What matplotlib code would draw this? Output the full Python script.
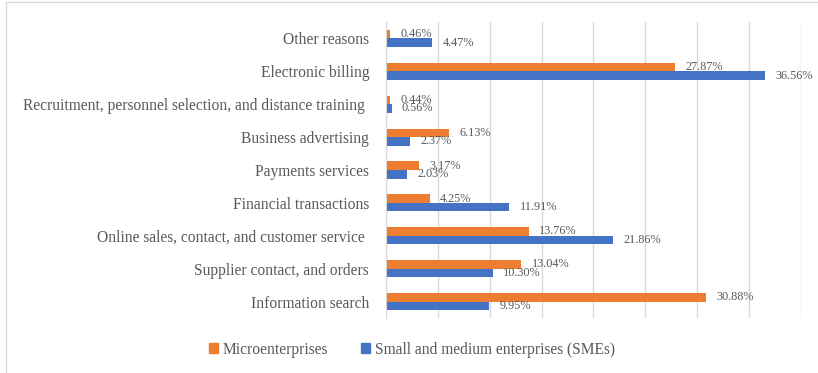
import numpy as np
import matplotlib
matplotlib.use('Agg')
import matplotlib.pyplot as plt
from matplotlib.patches import Rectangle, Patch

# Reasons for internet use, listed bottom to top
categories = [
    'Information search',
    'Supplier contact, and orders',
    'Online sales, contact, and customer service ',
    'Financial transactions',
    'Payments services',
    'Business advertising',
    'Recruitment, personnel selection, and distance training ',
    'Electronic billing',
    'Other reasons',
]
micro = [30.88, 13.04, 13.76, 4.25, 3.17, 6.13, 0.44, 27.87, 0.46]
smes = [9.95, 10.30, 21.86, 11.91, 2.03, 2.37, 0.56, 36.56, 4.47]

ORANGE = '#ED7D31'
BLUE = '#4472C4'
TEXT = '#595959'
GRID = '#D9D9D9'

plt.rcParams['font.family'] = ['Liberation Serif', 'DejaVu Serif']

fig = plt.figure(figsize=(8.18, 3.73), dpi=100)
ax = fig.add_axes([0.4715, 0.1475, 0.508, 0.7935])

y = np.arange(len(categories))
h = 0.26
b_micro = ax.barh(y + h / 2, micro, height=h, color=ORANGE)
b_smes = ax.barh(y - h / 2, smes, height=h, color=BLUE)

def label_bars(bars, vals):
    for rect, v in zip(bars, vals):
        ax.annotate(f'{v:.2f}%',
                    xy=(rect.get_width(), rect.get_y() + rect.get_height() / 2),
                    xytext=(7.5, 0), textcoords='offset points',
                    ha='left', va='center', fontsize=8.8, color=TEXT)

label_bars(b_micro, micro)
label_bars(b_smes, smes)

ax.set_xlim(0, 40)
ax.set_ylim(-0.5, len(categories) - 0.5)
ax.set_xticks(np.arange(0, 41, 5))
ax.set_xticklabels([])
ax.tick_params(axis='x', length=0)
ax.tick_params(axis='y', length=0, pad=12, labelsize=11.2, labelcolor=TEXT)
ax.set_yticks(y)
ax.set_yticklabels(categories)
ax.grid(axis='x', color=GRID, linewidth=1)
ax.set_axisbelow(True)
for s in ['top', 'right', 'bottom']:
    ax.spines[s].set_visible(False)
ax.spines['left'].set_color(GRID)

handles = [Patch(color=ORANGE, label='Microenterprises'),
           Patch(color=BLUE, label='Small and medium enterprises (SMEs)')]
fig.legend(handles=handles, loc='center', bbox_to_anchor=(0.5 + 3 / 818, 0.062),
           ncol=2, frameon=False, fontsize=11.2, labelcolor=TEXT,
           handlelength=0.6, handleheight=0.6, handletextpad=0.3,
           columnspacing=2.1)

# outer chart frame
fig.patches.append(Rectangle((6 / 818, -0.1), 1.2, 1.1 - 2 / 373,
                             transform=fig.transFigure, fill=False,
                             edgecolor=GRID, linewidth=1))

fig.savefig('out.png', dpi=100)
